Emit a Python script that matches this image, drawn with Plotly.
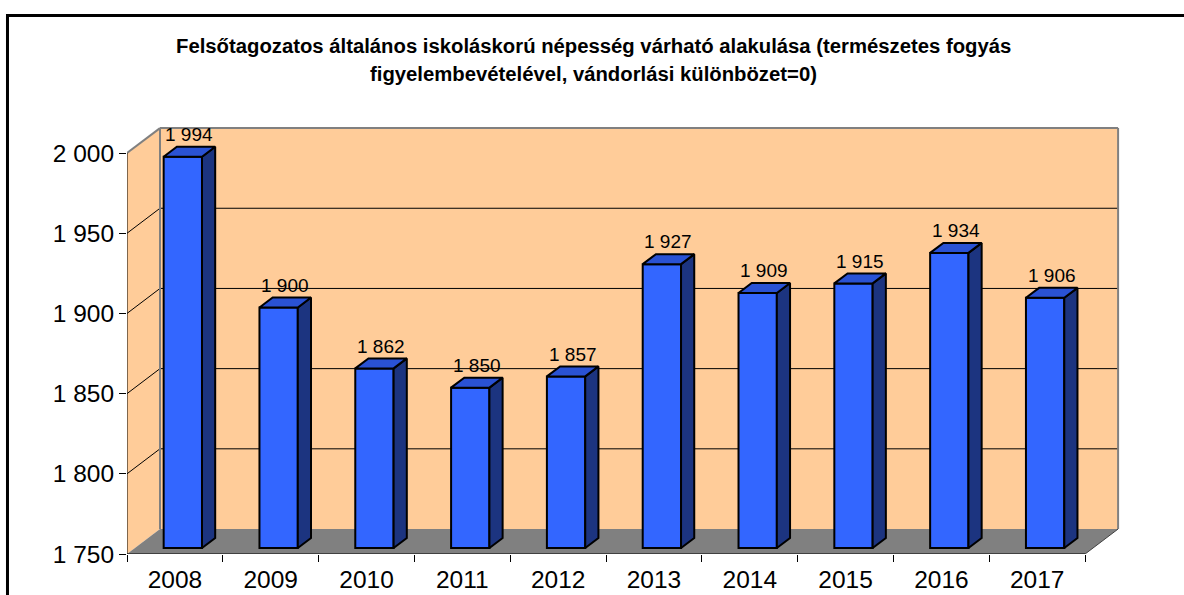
import plotly.graph_objects as go

# ---------------- data ----------------
years = ["2008", "2009", "2010", "2011", "2012", "2013", "2014", "2015", "2016", "2017"]
values = [1994, 1900, 1862, 1850, 1857, 1927, 1909, 1915, 1934, 1906]
ytick_vals = [1750, 1800, 1850, 1900, 1950, 2000]
ytick_text = ["1 750", "1 800", "1 850", "1 900", "1 950", "2 000"]
title_lines = [
    "Felsőtagozatos általános iskoláskorú népesség várható alakulása (természetes fogyás",
    "figyelembevételével, vándorlási különbözet=0)",
]

# ---------------- layout constants ----------------
W = 1184
H = 605                    # page height seen by the browser capture
SY = H / 595               # vertical compensation factor
L = 127
B = H - 552 * SY           # x-axis baseline
PXX, PXY = 95.8, 1.604 * SY
YMIN, YMAX = ytick_vals[0], ytick_vals[-1]
n = len(values)
XR = (0, n + 0.5)
YR = (YMIN, YMAX + 20)
plot_w = (XR[1] - XR[0]) * PXX
plot_h = (YR[1] - YR[0]) * PXY
R = W - L - plot_w
T = H - B - plot_h

DX, DY = 33 / PXX, 25 * SY / PXY  # full depth vector in data units
F0, F1 = 0.24, 0.64               # bar front / back depth fractions
BW = 0.4                          # bar width (category units)

WALL = "#FFCC99"
FLOOR = "#808080"
EDGE = "#808080"
FRONT = "#3366FF"
SIDE = "#1C3480"
TOP = "#2A52D4"
FONT = "Arial, Liberation Sans, sans-serif"


def pxp(px, py):
    """reference pixel -> paper coordinates"""
    return (px - L) / plot_w, (H - B - py * SY) / plot_h


fig = go.Figure()

# ---------------- walls, floor, grid (shapes below traces) ----------------
shapes = []
shapes.append(dict(type="path", xref="x", yref="y", layer="below",
                   path=f"M 0 {YMIN} L {DX} {YMIN+DY} L {DX} {YMAX+DY} L 0 {YMAX} Z",
                   fillcolor=WALL, line=dict(width=0)))
shapes.append(dict(type="rect", xref="x", yref="y", layer="below",
                   x0=DX, y0=YMIN + DY, x1=n + DX, y1=YMAX + DY,
                   fillcolor=WALL, line=dict(width=0)))
shapes.append(dict(type="path", xref="x", yref="y", layer="below",
                   path=f"M 0 {YMIN} L {n} {YMIN} L {n+DX} {YMIN+DY} L {DX} {YMIN+DY} Z",
                   fillcolor=FLOOR, line=dict(width=0)))
for v in ytick_vals[1:-1]:
    shapes.append(dict(type="line", xref="x", yref="y", layer="below",
                       x0=DX, y0=v + DY, x1=n + DX, y1=v + DY,
                       line=dict(color="black", width=1)))
    shapes.append(dict(type="line", xref="x", yref="y", layer="below",
                       x0=0, y0=v, x1=DX, y1=v + DY,
                       line=dict(color="black", width=1)))
for (x0, y0, x1, y1) in [
    (0, YMAX, DX, YMAX + DY),
    (DX, YMAX + DY, n + DX, YMAX + DY),
    (n + DX, YMAX + DY, n + DX, YMIN + DY),
    (DX, YMIN + DY, DX, YMAX + DY),
]:
    shapes.append(dict(type="line", xref="x", yref="y", layer="below",
                       x0=x0, y0=y0, x1=x1, y1=y1,
                       line=dict(color=EDGE, width=2)))
shapes.append(dict(type="line", xref="x", yref="y", layer="below",
                   x0=n, y0=YMIN, x1=n + DX, y1=YMIN + DY,
                   line=dict(color="#404040", width=1)))
shapes.append(dict(type="line", xref="x", yref="y", layer="above",
                   x0=0, y0=YMIN, x1=0, y1=YMAX, line=dict(color="black", width=1)))
shapes.append(dict(type="line", xref="x", yref="y", layer="above",
                   x0=0, y0=YMIN, x1=n, y1=YMIN, line=dict(color="black", width=1)))
# outer frame: only top and left edges are visible in the picture
fx0, fy0 = pxp(7.5, 13.5)
fxr, fyb = (W - L) / plot_w, -B / plot_h
shapes.append(dict(type="path", xref="paper", yref="paper", layer="above",
                   path=f"M {fx0} {fyb} L {fx0} {fy0} L {fxr} {fy0}",
                   line=dict(color="black", width=3)))

# ---------------- bars ----------------
xc = [i + 0.5 + F0 * DX for i in range(n)]
base = YMIN + F0 * DY
fig.add_trace(go.Bar(
    x=xc, y=[v - YMIN for v in values], base=base, width=BW,
    marker=dict(color=FRONT, line=dict(color="black", width=2)),
    hoverinfo="skip", showlegend=False,
))

ddx, ddy = (F1 - F0) * DX, (F1 - F0) * DY
sx, sy, tx, ty = [], [], [], []
for c, v in zip(xc, values):
    xl, xr = c - BW / 2, c + BW / 2
    top = v + F0 * DY
    sx += [xr, xr + ddx, xr + ddx, xr, xr, None]
    sy += [base, base + ddy, top + ddy, top, base, None]
    tx += [xl, xl + ddx, xr + ddx, xr, xl, None]
    ty += [top, top + ddy, top + ddy, top, top, None]

fig.add_trace(go.Scatter(x=sx, y=sy, mode="lines", fill="toself", fillcolor=SIDE,
                         line=dict(color="black", width=2), hoverinfo="skip", showlegend=False))
fig.add_trace(go.Scatter(x=tx, y=ty, mode="lines", fill="toself", fillcolor=TOP,
                         line=dict(color="black", width=2), hoverinfo="skip", showlegend=False))

# ---------------- data labels ----------------
annotations = []
for c, v in zip(xc, values):
    annotations.append(dict(
        x=c + ddx / 2, y=v + F0 * DY, xref="x", yref="y",
        text=f"{v:,}".replace(",", " "), showarrow=False,
        yshift=22 * SY, yanchor="middle", xanchor="center",
        font=dict(family=FONT, size=19, color="black")))

# ---------------- title ----------------
for line, py in zip(title_lines, [44, 72]):
    ax_, ay_ = pxp(593, py)
    annotations.append(dict(
        x=ax_, y=ay_, xref="paper", yref="paper", text=f"<b>{line}</b>",
        showarrow=False, xanchor="center", yanchor="middle",
        font=dict(family=FONT, size=20.3, color="black")))

fig.update_layout(
    width=W, height=H,
    margin=dict(l=L, r=R, t=T, b=B, pad=0),
    paper_bgcolor="white", plot_bgcolor="rgba(0,0,0,0)",
    shapes=shapes, annotations=annotations, showlegend=False,
    xaxis=dict(range=list(XR), tickmode="array",
               tickvals=[i + 0.5 for i in range(n)], ticktext=years,
               ticks="", showgrid=False, zeroline=False, showline=False,
               tickfont=dict(family=FONT, size=24.5, color="black"),
               ticklabelstandoff=8,
               minor=dict(tickmode="array", tickvals=list(range(n + 1)),
                          ticks="outside", ticklen=7, tickcolor="black", tickwidth=1,
                          showgrid=False),
               fixedrange=True),
    yaxis=dict(range=list(YR), tickmode="array", tickvals=ytick_vals, ticktext=ytick_text,
               ticks="outside", ticklen=7, tickcolor="black", tickwidth=1,
               showgrid=False, zeroline=False, showline=False,
               tickfont=dict(family=FONT, size=24.5, color="black"),
               fixedrange=True),
)

post = (
    "document.body.style.margin='0';"
    "document.body.style.overflow='hidden';"
)
fig.write_html("out.html", config={"displayModeBar": False}, post_script=post)
